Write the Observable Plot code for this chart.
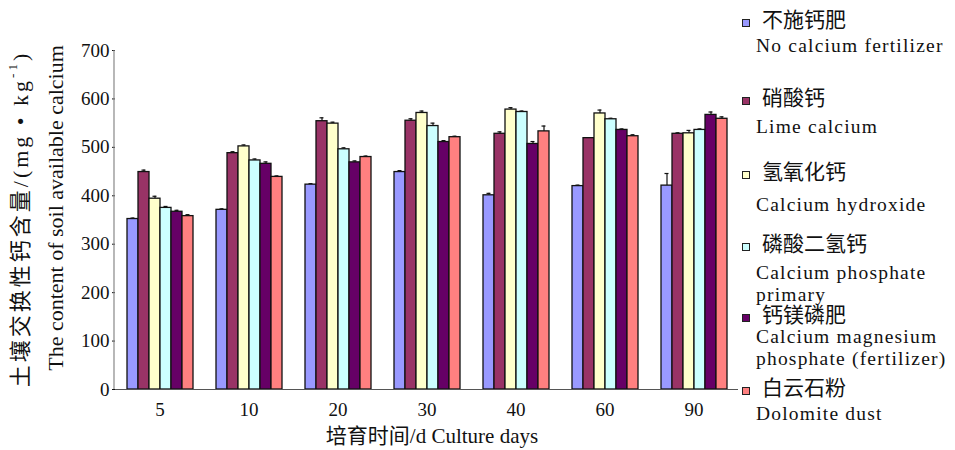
<!DOCTYPE html>
<html>
<head>
<meta charset="utf-8">
<script src="https://cdn.jsdelivr.net/npm/d3@7"></script>
<script src="https://cdn.jsdelivr.net/npm/@observablehq/plot@0.6"></script>
<style>
  body { margin: 0; background: #fff; }
  #wrap { position: relative; width: 955px; height: 450px; overflow: hidden; }
  #wrap svg { position: absolute; left: 0; top: 0; }
  .lg { position: absolute; white-space: nowrap; color: #111; }
  .lg .cn { position: absolute; font-family: "Liberation Serif", "Noto Sans CJK SC", serif; font-size: 21px; line-height: 22px; }
  .lg .en { position: absolute; font-family: "Liberation Serif", serif; font-size: 19.5px; line-height: 21.5px; letter-spacing: 1.2px; }
  .lg .sw { position: absolute; width: 6px; height: 6px; border: 1px solid #222; }
</style>
</head>
<body>
<div id="wrap"></div>
<script>
// ---- data ----
const days = ["5", "10", "20", "30", "40", "60", "90"];
const seriesCN = ["不施钙肥", "硝酸钙", "氢氧化钙", "磷酸二氢钙", "钙镁磷肥", "白云石粉"];
const seriesEN = ["No calcium fertilizer", "Lime calcium", "Calcium hydroxide",
  "Calcium phosphate\nprimary", "Calcium magnesium\nphosphate (fertilizer)", "Dolomite dust"];
const colors = ["#9999FF", "#993366", "#FFFFCC", "#CCFFFF", "#660066", "#FF8080"];

const noCalcium   = [352, 371, 423, 449, 401, 420, 421];
const limeCalcium = [449, 488, 554, 555, 528, 519, 528];
const hydroxide   = [394, 502, 549, 571, 578, 570, 529];
const phosphate   = [375, 473, 496, 544, 573, 558, 536];
const magnesium   = [367, 466, 469, 511, 507, 536, 567];
const dolomite    = [358, 439, 480, 521, 533, 523, 559];

const errNoCalcium   = [2, 2, 2, 3, 4, 2, 25];
const errLimeCalcium = [4, 3, 7, 4, 4, 1, 2];
const errHydroxide   = [5, 3, 3, 4, 4, 7, 6];
const errPhosphate   = [3, 3, 3, 6, 2, 2, 2];
const errMagnesium   = [3, 4, 3, 3, 5, 2, 6];
const errDolomite    = [3, 2, 2, 2, 11, 3, 4];

const yTicks = [0, 100, 200, 300, 400, 500, 600, 700];

const values = [noCalcium, limeCalcium, hydroxide, phosphate, magnesium, dolomite];
const errors = [errNoCalcium, errLimeCalcium, errHydroxide, errPhosphate, errMagnesium, errDolomite];

const rows = [];
days.forEach((d, i) => seriesCN.forEach((s, j) => rows.push({day: d, series: s, value: values[j][i], err: errors[j][i]})));

// ---- chart ----
const plot = Plot.plot({
  width: 955,
  height: 450,
  marginLeft: 114,
  marginRight: 217,
  marginTop: 50,
  marginBottom: 61,
  style: {fontFamily: "Liberation Serif, serif", fontSize: "19px", background: "white", color: "#111"},
  facet: {data: rows, x: "day"},
  fx: {domain: days, padding: 0, label: null, tickSize: 0, tickPadding: 13},
  x: {domain: seriesCN, paddingInner: 0, paddingOuter: 0.71, axis: null},
  y: {domain: [0, 700], ticks: yTicks, tickSize: 3, tickPadding: 3, label: null},
  color: {domain: seriesCN, range: colors},
  marks: [
    Plot.ruleX(rows, {x: "series", y1: "value", y2: d => d.value + d.err, stroke: "#111", strokeWidth: 1.2}),
    Plot.tickY(rows, {x: "series", y: d => d.value + d.err, insetLeft: 3.5, insetRight: 3.5, stroke: "#111", strokeWidth: 1.2}),
    Plot.barY(rows, {x: "series", y: "value", fill: "series", stroke: "#111", strokeWidth: 1.3}),
    Plot.ruleY([0], {stroke: "#555", strokeWidth: 1.2})
  ]
});

const wrap = document.getElementById("wrap");
wrap.appendChild(plot);

const svg = d3.select(plot.tagName.toLowerCase() === "svg" ? plot : plot.querySelector("svg"));
const ysc = plot.scale("y");
const fxs = plot.scale("fx");
const y = d3.scaleLinear(ysc.domain, ysc.range);
const x0 = fxs.range[0], x1 = fxs.range[1];

// y axis line
svg.append("line")
  .attr("x1", x0).attr("x2", x0)
  .attr("y1", y(700)).attr("y2", y(0))
  .attr("stroke", "#888").attr("stroke-width", 1.2);

// axis titles
const titleFont = "Liberation Serif, Noto Sans CJK SC, serif";
svg.append("text")
  .attr("x", (x0 + x1) / 2 + 6).attr("y", 436)
  .attr("text-anchor", "middle").attr("dominant-baseline", "central")
  .attr("font-family", titleFont).attr("font-size", 21).attr("fill", "#111")
  .text("培育时间/d Culture days");

const t1 = svg.append("text")
  .attr("transform", "translate(20,219) rotate(-90)")
  .attr("text-anchor", "middle").attr("dominant-baseline", "central")
  .attr("font-family", titleFont).attr("font-size", 22).attr("fill", "#111")
  .attr("letter-spacing", "3px");
t1.append("tspan").text("土壤交换性钙含量/(mg • kg");
t1.append("tspan").attr("font-size", 13).attr("dy", -8).text("-1");
t1.append("tspan").attr("dy", 8).text(")");

svg.append("text")
  .attr("transform", "translate(55,208) rotate(-90)")
  .attr("text-anchor", "middle").attr("dominant-baseline", "central")
  .attr("font-family", titleFont).attr("font-size", 22).attr("fill", "#111")
  .text("The content of soil available calcium");

// legend
const cnCenters = [20, 98, 172, 244, 315, 388];
const enTops = [35, 116, 194, 262, 326, 403];
const legend = d3.select(wrap).append("div").attr("class", "lg").style("left", "0px").style("top", "0px");
seriesCN.forEach((s, i) => {
  legend.append("div").attr("class", "sw")
    .style("left", "742px").style("top", (cnCenters[i] + 3 - 4) + "px")
    .style("background", colors[i]);
  legend.append("div").attr("class", "cn")
    .style("left", "762px").style("top", (cnCenters[i] - 11) + "px").text(s);
  const en = legend.append("div").attr("class", "en")
    .style("left", "756px").style("top", enTops[i] + "px");
  seriesEN[i].split("\n").forEach(line => en.append("div").text(line));
});
</script>
</body>
</html>
